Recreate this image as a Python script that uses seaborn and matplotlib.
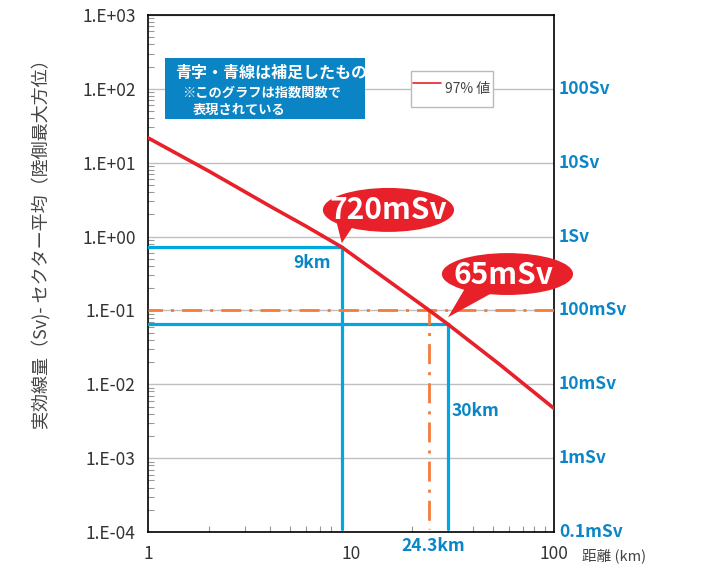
import numpy as np
import pandas as pd
import matplotlib
matplotlib.use('Agg')
import matplotlib.pyplot as plt
import seaborn as sns
from matplotlib.ticker import FuncFormatter, LogLocator, NullFormatter, FixedLocator
from matplotlib.patches import Rectangle, Ellipse, Polygon

# 97% 値 カーブ
DIST_KM = [1, 2, 4.1, 6, 9, 24.3, 30, 54, 100]
DOSE_SV = [21.7, 7.65, 2.47, 1.38, 0.72, 0.1, 0.065, 0.0185, 0.0047]

# 補足線
GUIDE_9KM = (9, 0.72)
GUIDE_30KM = (30, 0.065)
LIMIT_100MSV = (24.3, 0.1)
Y_FLOOR = 1.1e-4

Y_EXPONENTS = [3, 2, 1, 0, -1, -2, -3, -4]
RIGHT_VALUES = [1e2, 1e1, 1e0, 1e-1, 1e-2, 1e-3, 1e-4]
RIGHT_LABELS = ['100Sv', '10Sv', '1Sv', '100mSv', '10mSv', '1mSv', '0.1mSv']
X_TICKS = [1, 10, 100]

RED = '#E8202A'
BLUE_LINE = '#00A8E1'
BLUE_TEXT = '#0A86C6'
BOX_BLUE = '#0A84C4'
ORANGE = '#F47B3A'
GRID = '#C0C0C0'

sns.set_theme(style='white')
plt.rcParams['font.family'] = ['Noto Sans CJK JP', 'DejaVu Sans']
plt.rcParams['axes.unicode_minus'] = False

fig = plt.figure(figsize=(7.1, 5.66), dpi=100)
ax = fig.add_axes([0.2085, 0.060, 0.572, 0.9135])

df = pd.DataFrame({'距離': DIST_KM, '線量': DOSE_SV})
sns.lineplot(data=df, x='距離', y='線量', color=RED, lw=2.6, label='97% 値',
             ax=ax, zorder=6)

ax.set_xscale('log')
ax.set_yscale('log')
ax.set_xlim(1, 100)
ax.set_ylim(1e-4, 1e3)

# グリッドと目盛り
ax.yaxis.grid(True, which='major', color=GRID, lw=1)
ax.xaxis.grid(False)
ax.yaxis.set_major_locator(FixedLocator([10.0 ** e for e in Y_EXPONENTS]))
ax.yaxis.set_major_formatter(FuncFormatter(lambda v, p: f"1.E{int(round(np.log10(v))):+03d}"))
ax.yaxis.set_minor_locator(LogLocator(base=10, subs=np.arange(2, 10)))
ax.yaxis.set_minor_formatter(NullFormatter())
ax.xaxis.set_major_locator(FixedLocator(X_TICKS))
ax.xaxis.set_major_formatter(FuncFormatter(lambda v, p: f"{v:g}"))
ax.xaxis.set_minor_locator(LogLocator(base=10, subs=np.arange(2, 10)))
ax.xaxis.set_minor_formatter(NullFormatter())
ax.tick_params(which='major', length=0, pad=9, labelsize=12.5, colors='#333333')
ax.tick_params(which='minor', direction='in', length=4, width=0.8, color='#999999',
               left=True, bottom=True)
ax.set_xlabel('')
for s in ax.spines.values():
    s.set_color('black')
    s.set_linewidth(1.2)

# 青の補足線
for d, v in [GUIDE_9KM, GUIDE_30KM]:
    ax.plot([1, d, d], [v, v, Y_FLOOR], color=BLUE_LINE, lw=2.3, zorder=3,
            solid_joinstyle='miter')

# 100mSv 一点鎖線
dash = (2, (7.2, 2.9, 1.1, 2.9))
ax.plot([1, 100], [LIMIT_100MSV[1]] * 2, color=ORANGE, lw=2.0, ls=dash, zorder=4)
ax.plot([LIMIT_100MSV[0]] * 2, [LIMIT_100MSV[1], Y_FLOOR], color=ORANGE, lw=2.0,
        ls=dash, zorder=4)

# 右側ラベル
for v, lab in zip(RIGHT_VALUES, RIGHT_LABELS):
    ax.text(1.012, v, lab, transform=ax.get_yaxis_transform(), ha='left', va='center',
            color=BLUE_TEXT, fontweight='bold', fontsize=12.5)

ax.text(GUIDE_9KM[0] * 0.885, 0.445, '9km', ha='right', va='center', color=BLUE_TEXT,
        fontweight='bold', fontsize=12.5)
ax.text(GUIDE_30KM[0] * 1.04, 0.0043, '30km', ha='left', va='center', color=BLUE_TEXT,
        fontweight='bold', fontsize=12.5)
ax.text(LIMIT_100MSV[0] * 1.04, -0.027, f'{LIMIT_100MSV[0]}km', transform=ax.get_xaxis_transform(),
        ha='center', va='center', color=BLUE_TEXT, fontweight='bold', fontsize=12.5)
fig.text(0.82, 0.018, '距離 (km)', ha='left', va='center', color='#444444', fontsize=10.5)

ax.set_ylabel('実効線量（Sv)- セクター平均（陸側最大方位）', fontsize=13, color='#444444')
ax.yaxis.set_label_coords(-0.24, 0.565)

# 説明ボックス
ax.add_patch(Rectangle((0.042, 0.799), 0.492, 0.118, transform=ax.transAxes,
                       facecolor=BOX_BLUE, edgecolor='none', zorder=7))
ax.text(0.067, 0.889, '青字・青線は補足したもの', transform=ax.transAxes, color='white',
        fontweight='bold', fontsize=11.5, ha='left', va='center', zorder=8)
ax.text(0.084, 0.850, '※このグラフは指数関数で', transform=ax.transAxes, color='white',
        fontweight='bold', fontsize=9.5, ha='left', va='center', zorder=8)
ax.text(0.111, 0.817, '表現されている', transform=ax.transAxes, color='white',
        fontweight='bold', fontsize=9.5, ha='left', va='center', zorder=8)

# 凡例
leg = ax.legend(loc='center', bbox_to_anchor=(0.748, 0.857), frameon=True, fancybox=False,
                framealpha=1, edgecolor='#BBBBBB', fontsize=10, handlelength=2.0,
                handleheight=3.0, handletextpad=0.3, borderpad=0.2, borderaxespad=0)
leg.get_frame().set_linewidth(1)
for line in leg.get_lines():
    line.set_linewidth(1.2)
for t in leg.get_texts():
    t.set_color('#444444')


# 吹き出し
def to_axes(pt, dy_px=0):
    disp = ax.transData.transform(pt) + np.array([0, dy_px])
    return ax.transAxes.inverted().transform(disp)


def callout(text, center, size, base, tip, text_center):
    ax.add_patch(Ellipse(center, size[0], size[1], transform=ax.transAxes,
                         facecolor=RED, edgecolor='none', clip_on=False, zorder=9))
    ax.add_patch(Polygon([base[0], base[1], tip], closed=True, transform=ax.transAxes,
                         facecolor=RED, edgecolor='none', clip_on=False, zorder=9))
    ax.text(text_center[0], text_center[1], text, transform=ax.transAxes, color='white',
            fontweight='bold', fontsize=21.5, ha='center', va='center', zorder=10)


callout('720mSv', (0.592, 0.623), (0.323, 0.085), [(0.463, 0.603), (0.512, 0.600)],
        to_axes(GUIDE_9KM, 4), (0.592, 0.623))
callout('65mSv', (0.885, 0.499), (0.323, 0.081), [(0.781, 0.472), (0.860, 0.468)],
        to_axes(GUIDE_30KM, 7), (0.875, 0.497))

fig.savefig('out.png', dpi=100)
